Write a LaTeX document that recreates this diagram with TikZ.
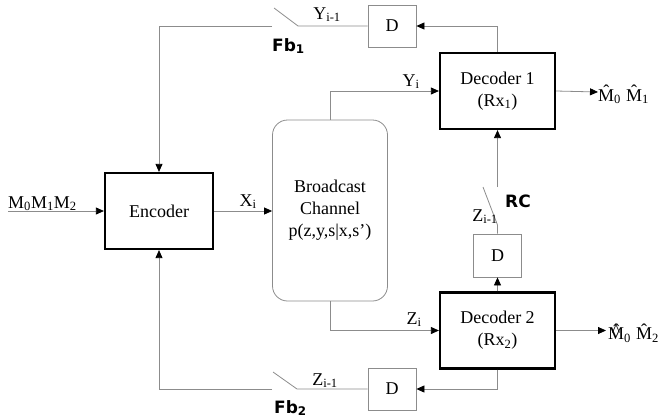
\documentclass[tikz,border=0pt]{standalone}
\usepackage{fontspec}
\setmainfont{Liberation Serif}
\newfontfamily\lblfont{DejaVu Sans}
\usetikzlibrary{arrows.meta}
\definecolor{ln}{RGB}{140,140,140}
\newcommand{\dblhatM}{\ooalign{\^{M}\cr\hidewidth\raisebox{3pt}{\^{}}\hidewidth\cr}}
\begin{document}
\begin{tikzpicture}[x=1pt,y=-1pt,
  every node/.style={font=\fontsize{18}{22}\selectfont},
  thinline/.style={draw=ln, line width=0.8pt},
  arr/.style={thinline, -{Triangle[length=8pt,width=7pt,color=black]}},
  block/.style={draw=black, line width=2.2pt, minimum width=115pt, minimum height=76pt, align=center, inner sep=0pt},
  dbox/.style={draw=ln, line width=0.8pt, minimum width=48pt, minimum height=42pt, inner sep=0pt},
  swlbl/.style={inner sep=0pt, font=\lblfont\bfseries\fontsize{17}{20}\selectfont},
  lbl/.style={inner sep=0pt}
]
\useasboundingbox (0,0) rectangle (663,418);

% blocks
\node[block, minimum width=108pt] (enc) at (159,211) {Encoder};
\node[draw=ln, line width=0.8pt, rounded corners=15pt, minimum width=115pt, minimum height=181pt, align=center, inner sep=0pt] (chan) at (330,210.5) {Broadcast\\Channel\\p(z,y,s|x,s’)};
\node[block] (dec1) at (497.5,91) {Decoder 1\\(Rx\textsubscript{1})};
\node[block] (dec2) at (497.5,330.5) {Decoder 2\\(Rx\textsubscript{2})};
\node[dbox] (d1) at (392,26) {D};
\node[dbox] (d2) at (392,389) {D};
\node[dbox, minimum height=43pt] (d3) at (497.5,255.5) {D};

% coordinates
\coordinate (in) at (8,211);
\coordinate (out1) at (598,92);
\coordinate (out2) at (606,330.5);
\coordinate (s1a) at (298,26);
\coordinate (s1b) at (274,8);
\coordinate (s1c) at (272,26);
\coordinate (s2a) at (297,389);
\coordinate (s2b) at (273,372);
\coordinate (s2c) at (272,389);
\coordinate (s3a) at (497.5,225);
\coordinate (s3b) at (483,187);
\coordinate (s3c) at (497.5,187);

% connectors
\draw[arr] (in) -- (enc.west);
\draw[arr] (enc.east) -- (enc.east -| chan.west);
\draw[arr] (chan.north) |- (dec1.west);
\draw[arr] (chan.south) |- (dec2.west);
\draw[arr] (dec1.east) -- (out1);
\draw[arr] (dec2.east) -- (out2);
\draw[arr] (dec1.north) |- (d1.east);
\draw[thinline] (d1.west) -- (s1a) -- (s1b);
\draw[arr] (s1c) -| (enc.north);
\draw[arr] (dec2.south) |- (d2.east);
\draw[thinline] (d2.west) -- (s2a) -- (s2b);
\draw[arr] (s2c) -| (enc.south);
\draw[arr] (dec2.north) -- (d3.south);
\draw[thinline] (d3.north) -- (s3a) -- (s3b);
\draw[arr] (s3c) -- (dec1.south);

% labels
\node[lbl, anchor=base west] (lin) at (8,208) {M\textsubscript{0}M\textsubscript{1}M\textsubscript{2}};
\node[lbl, anchor=base] (lx) at (248,206) {X\textsubscript{i}};
\node[lbl, anchor=base] (ly) at (411,86) {Y\textsubscript{i}};
\node[lbl, anchor=base] (lz) at (414,324) {Z\textsubscript{i}};
\node[lbl, anchor=base] (ly1) at (327,19) {Y\textsubscript{i-1}};
\node[lbl, anchor=base] (lz1) at (325,385) {Z\textsubscript{i-1}};
\node[lbl, anchor=base] (lz3) at (485,221) {Z\textsubscript{i-1}};
\node[lbl, anchor=base west] (lo1) at (598,101) {\^{M}\textsubscript{0}\hspace{5pt}\^{M}\textsubscript{1}};
\node[lbl, anchor=base west] (lo2) at (608,339.5) {\dblhatM\textsubscript{0}\hspace{5pt}\^{M}\textsubscript{2}};
\node[swlbl, anchor=base west] (fb1) at (272,51) {Fb\textsubscript{1}};
\node[swlbl, anchor=base west] (fb2) at (274,413) {Fb\textsubscript{2}};
\node[swlbl, anchor=base west] (rc) at (505,207) {RC};
\end{tikzpicture}
\end{document}
